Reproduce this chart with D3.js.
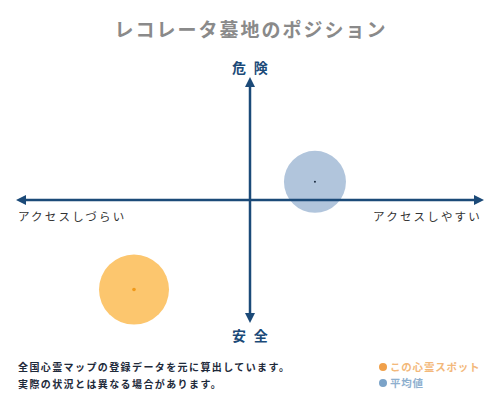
<!DOCTYPE html>
<html>
<head>
<meta charset="utf-8">
<script src="https://cdn.jsdelivr.net/npm/d3@7"></script>
<style>
  body { margin: 0; background: #fff; }
  text { font-family: "Noto Sans CJK JP", sans-serif; }
</style>
</head>
<body>
<div id="chart"></div>
<script>
const svgw = 500
const svgh = 400
const navy = '#1b4a78'

const title = 'レコレータ墓地のポジション'
const axisLabels = ['危 険', '安 全', 'アクセスしづらい', 'アクセスしやすい']
const seriesNames = ['この心霊スポット', '平均値']
const seriesX = [-50, 28]
const seriesY = [-74, 15]
const seriesR = [35, 31]
const notes = ['全国心霊マップの登録データを元に算出しています。', '実際の状況とは異なる場合があります。']

const fills = ['#fcc66e', '#b1c5dc']
const dots = ['#f09a1a', '#1a2a40']
const legendColors = ['#f0a04a', '#7ba3c8']
const legendText = ['#f3b87a', '#8fb0cf']

const svg = d3.select('#chart')
    .append('svg')
    .attr('width', svgw)
    .attr('height', svgh)

const xScale = d3.scaleLinear().domain([-100, 100]).range([18, 482])
const yScale = d3.scaleLinear().domain([-100, 100]).range([321, 79])

svg.append('text')
    .attr('x', 251).attr('y', 37)
    .attr('text-anchor', 'middle')
    .attr('fill', '#8a8a8a')
    .attr('font-size', 19)
    .attr('font-weight', 'bold')
    .attr('letter-spacing', 2)
    .text(title)

// bubbles
const pts = seriesX.map((x, i) => ({ x, y: seriesY[i], r: seriesR[i], i }))
svg.selectAll('circle.bub')
    .data(pts)
    .enter()
    .append('circle')
    .attr('class', 'bub')
    .attr('cx', d => xScale(d.x))
    .attr('cy', d => yScale(d.y))
    .attr('r', d => d.r)
    .attr('fill', d => fills[d.i])

// axes
const defs = svg.append('defs')
defs.append('marker')
    .attr('id', 'arrow')
    .attr('viewBox', '0 0 10 10')
    .attr('refX', 5).attr('refY', 5)
    .attr('markerWidth', 4).attr('markerHeight', 4)
    .attr('orient', 'auto-start-reverse')
    .append('path')
    .attr('d', 'M0,0L10,5L0,10z')
    .attr('fill', navy)

svg.append('line')
    .attr('x1', xScale(-100) + 3).attr('x2', xScale(100) - 3)
    .attr('y1', yScale(0)).attr('y2', yScale(0))
    .attr('stroke', navy).attr('stroke-width', 2.5)
    .attr('marker-start', 'url(#arrow)')
    .attr('marker-end', 'url(#arrow)')

svg.append('line')
    .attr('x1', xScale(0)).attr('x2', xScale(0))
    .attr('y1', yScale(100) + 3).attr('y2', yScale(-100) - 3)
    .attr('stroke', navy).attr('stroke-width', 2.5)
    .attr('marker-start', 'url(#arrow)')
    .attr('marker-end', 'url(#arrow)')

svg.selectAll('circle.dot')
    .data(pts)
    .enter()
    .append('circle')
    .attr('class', 'dot')
    .attr('cx', d => xScale(d.x))
    .attr('cy', d => yScale(d.y))
    .attr('r', d => d.i === 0 ? 1.8 : 1)
    .attr('fill', d => dots[d.i])

// axis labels
const labelPos = [
    { x: 251, y: 73, anchor: 'middle' },
    { x: 251, y: 341, anchor: 'middle' },
    { x: 18, y: 221, anchor: 'start' },
    { x: 482, y: 221, anchor: 'end' }
]
svg.selectAll('text.alab')
    .data(axisLabels)
    .enter()
    .append('text')
    .attr('class', 'alab')
    .attr('x', (d, i) => labelPos[i].x)
    .attr('y', (d, i) => labelPos[i].y)
    .attr('text-anchor', (d, i) => labelPos[i].anchor)
    .attr('fill', (d, i) => i < 2 ? navy : '#333')
    .attr('font-size', (d, i) => i < 2 ? 14 : 11.5)
    .attr('font-weight', (d, i) => i < 2 ? 'bold' : 'normal')
    .attr('letter-spacing', 2.2)
    .text(d => d)

// notes
svg.selectAll('text.note')
    .data(notes)
    .enter()
    .append('text')
    .attr('class', 'note')
    .attr('x', 18)
    .attr('y', (d, i) => 371 + i * 17)
    .attr('fill', '#1e2a3a')
    .attr('font-size', 10)
    .attr('font-weight', 'bold')
    .attr('letter-spacing', 1.4)
    .text(d => d)

// legend
const lg = svg.selectAll('g.lg')
    .data(seriesNames)
    .enter()
    .append('g')
    .attr('class', 'lg')
    .attr('transform', (d, i) => `translate(383,${367 + i * 16})`)
lg.append('circle')
    .attr('r', 4)
    .attr('fill', (d, i) => legendColors[i])
lg.append('text')
    .attr('x', 7).attr('y', 4)
    .attr('fill', (d, i) => legendText[i])
    .attr('font-size', 10.5)
    .attr('font-weight', 'bold')
    .attr('letter-spacing', 0.8)
    .text(d => d)
</script>
</body>
</html>
